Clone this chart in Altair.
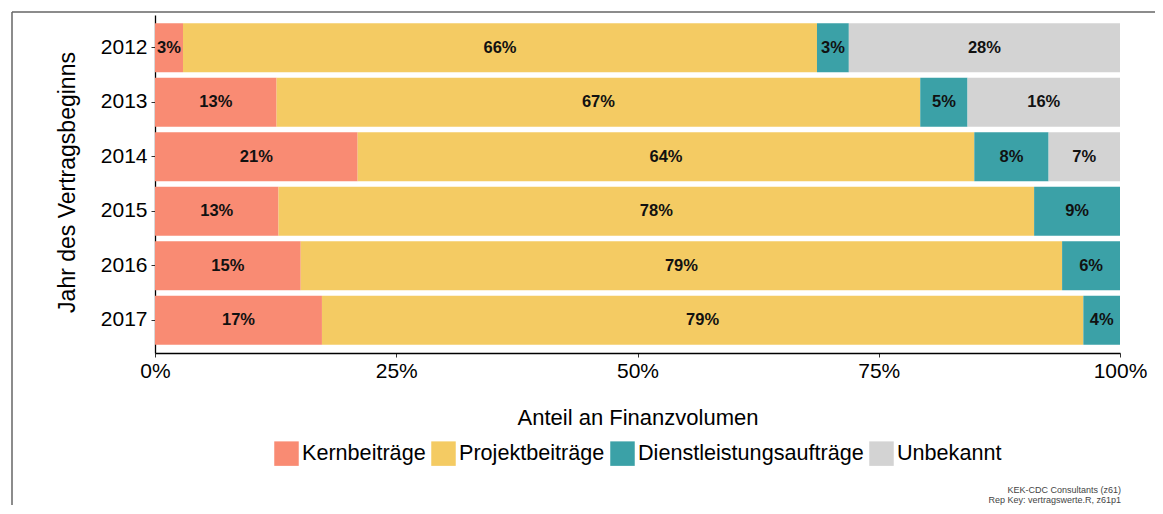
import altair as alt
import pandas as pd

years = ["2012", "2013", "2014", "2015", "2016", "2017"]
categories = ["Kernbeiträge", "Projektbeiträge", "Dienstleistungsaufträge", "Unbekannt"]
colors = ["#F98B73", "#F4CB63", "#3BA1A7", "#D3D3D3"]

kern = [2.9, 12.6, 21.0, 12.8, 15.1, 17.3]
projekt = [65.7, 66.7, 63.9, 78.3, 78.9, 78.9]
dienst = [3.3, 4.9, 7.7, 8.9, 6.0, 3.8]
unbekannt = [28.1, 15.8, 7.4, 0.0, 0.0, 0.0]

caption = ["KEK-CDC Consultants (z61)", "Rep Key: vertragswerte.R, z61p1"]

series = [kern, projekt, dienst, unbekannt]
rows = []
for i, y in enumerate(years):
    start = 0.0
    for c, vals in zip(categories, series):
        v = vals[i]
        if v <= 0:
            continue
        rows.append({
            "year": y, "cat": c, "value": v,
            "start": start, "end": start + v, "mid": start + v / 2,
            "label": f"{round(v):.0f}%",
        })
        start += v
df = pd.DataFrame(rows)

FONT = "Liberation Sans"
W, H = 965, 338

yenc = alt.Y(
    "year:N",
    sort=years,
    scale=alt.Scale(paddingInner=0.1, paddingOuter=0.15),
    axis=alt.Axis(
        title="Jahr des Vertragsbeginns",
        titleFontSize=23, titleFontWeight="normal", titleColor="#000",
        titleAngle=-90, titleBaseline="alphabetic", titleX=-81, titleY=167,
        labelFontSize=21, labelColor="#000", labelPadding=4,
        tickSize=4, tickColor="#333", domainColor="#000", domainWidth=1.3,
    ),
)

bars = alt.Chart(df).mark_bar().encode(
    x=alt.X(
        "start:Q",
        scale=alt.Scale(domain=[0, 100], nice=False, zero=True),
        axis=alt.Axis(
            title="Anteil an Finanzvolumen",
            values=[0, 25, 50, 75, 100],
            labelExpr="datum.value + '%'",
            labelFlush=False, labelFontSize=21, labelColor="#000", labelPadding=3,
            tickSize=4, tickColor="#333", domainColor="#000", domainWidth=1.3,
            grid=False,
            titleFontSize=22, titleFontWeight="normal", titleColor="#000",
            titleBaseline="alphabetic", titleY=71,
        ),
    ),
    x2="end:Q",
    y=yenc,
    color=alt.Color(
        "cat:N",
        scale=alt.Scale(domain=categories, range=colors),
        legend=alt.Legend(
            title=None, orient="none", direction="horizontal",
            legendX=119, legendY=426,
            symbolType="square", symbolSize=600, symbolStrokeWidth=0,
            labelFontSize=21.6, labelColor="#000", labelLimit=400,
            labelOffset=3, columnPadding=5, padding=0,
        ),
    ),
)

labels = alt.Chart(df).mark_text(
    font=FONT, fontSize=16.5, fontWeight="bold", color="#111", baseline="middle"
).encode(
    x="mid:Q",
    y=alt.Y("year:N", sort=years),
    text="label:N",
)

cap = alt.Chart(pd.DataFrame({"k": [0]})).mark_text(
    text=caption, font=FONT, fontSize=9, color="#444", align="right",
    baseline="alphabetic", lineHeight=10,
).encode(x=alt.value(966), y=alt.value(478))

one = pd.DataFrame({"k": [0]})
frame_top = alt.Chart(one).mark_rule(color="#666", strokeWidth=1.5).encode(
    x=alt.value(-143), x2=alt.value(1000), y=alt.value(-3)
)
frame_left = alt.Chart(one).mark_rule(color="#666", strokeWidth=1.5).encode(
    x=alt.value(-143), y=alt.value(-3), y2=alt.value(500)
)

chart = alt.layer(bars, labels, cap, frame_top, frame_left).properties(
    width=W, height=H,
    autosize=alt.AutoSizeParams(type="none"),
    padding={"left": 147, "top": 7, "right": 35, "bottom": 152},
).configure(font=FONT).configure_view(stroke=None)

chart.save("out.html", embed_options={"renderer": "svg", "actions": False})
